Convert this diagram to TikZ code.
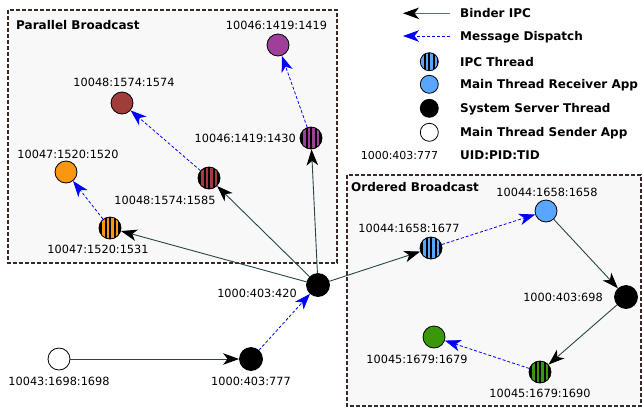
\documentclass[tikz,border=0pt]{standalone}
\usepackage{fontspec}
\setmainfont{DejaVu Sans}
\usetikzlibrary{arrows.meta}
\definecolor{cpurple}{RGB}{158,64,154}
\definecolor{cbrown}{RGB}{160,60,58}
\definecolor{corange}{RGB}{250,150,16}
\definecolor{cblue}{RGB}{90,165,255}
\definecolor{cgreen}{RGB}{58,152,8}
\definecolor{bindercol}{RGB}{40,70,70}
\definecolor{boxcol}{RGB}{55,42,36}
\definecolor{boxfill}{RGB}{248,248,248}
\begin{document}
\begin{tikzpicture}[x=1pt,y=-1pt,
  tipb/.tip={Stealth[length=16pt,width=11.5pt,inset=4.5pt,color=black]},
  tipd/.tip={Stealth[length=16pt,width=11.5pt,inset=4.5pt,color=blue]},
  binder/.style={draw=bindercol, line width=0.9pt, -tipb},
  dispatch/.style={draw=blue, line width=0.8pt, dash pattern=on 3pt off 2pt, -tipd},
  nd/.style={circle, draw=black, line width=0.8pt, minimum size=22pt, inner sep=0pt},
  mainn/.style={nd, fill=#1},
  ipcn/.style={nd, fill=black, path picture={
     \foreach \dx in {-6.75,-2.25,2.25,6.75}
       \fill[#1] ([xshift={\dx pt-1.25pt}]path picture bounding box.south) rectangle ([xshift={\dx pt+1.25pt}]path picture bounding box.north);}},
  sys/.style={nd, fill=black, minimum size=23pt},
  lg/.style={minimum size=18pt},
  lbl/.style={inner sep=0pt, text height=8.2pt, text depth=0pt, font=\fontsize{11.3}{13}\selectfont},
  blbl/.style={inner sep=0pt, text height=8.8pt, text depth=0pt, anchor=west, font=\fontsize{12}{14}\selectfont\bfseries},
  boxst/.style={draw=boxcol, line width=1.2pt, dash pattern=on 4pt off 2pt, fill=boxfill}
]
\useasboundingbox (0,0) rectangle (642,408);
% boxes
\draw[boxst] (8,10) rectangle (337,263);
\draw[boxst] (347,175) rectangle (641,406);
\node[blbl] (tpar) at (16,25) {Parallel Broadcast};
\node[blbl] (tord) at (351,187) {Ordered Broadcast};

% nodes
\node[mainn=cpurple] (pm) at (278,45) {};
\node[mainn=cbrown] (bm) at (122,103) {};
\node[mainn=corange] (om) at (66,172) {};
\node[ipcn=cpurple] (pi) at (311,138) {};
\node[ipcn=cbrown] (bi) at (209,178) {};
\node[ipcn=corange] (oi) at (110,228) {};
\node[sys] (hub) at (318,285) {};
\node[sys] (s777) at (251,359) {};
\node[mainn=white] (snd) at (59,359) {};
\node[ipcn=cblue] (ui) at (431,248) {};
\node[mainn=cblue] (um) at (546,211) {};
\node[sys] (s698) at (626,297) {};
\node[ipcn=cgreen] (gi) at (540,372) {};
\node[mainn=cgreen] (gm) at (434,337) {};

% labels
\node[lbl] (lpm) at (276.5,25) {10046:1419:1419};
\node[lbl] (lbm) at (124,82) {10048:1574:1574};
\node[lbl] (lom) at (68,154) {10047:1520:1520};
\node[lbl, anchor=east] (lpi) at (296,138) {10046:1419:1430};
\node[lbl] (lbi) at (165,200) {10048:1574:1585};
\node[lbl] (loi) at (98,249.5) {10047:1520:1531};
\node[lbl, anchor=east] (lhub) at (297,293) {1000:403:420};
\node[lbl] (l777) at (251,381) {1000:403:777};
\node[lbl] (lsnd) at (59,381) {10043:1698:1698};
\node[lbl] (lui) at (409,228) {10044:1658:1677};
\node[lbl] (lum) at (547,192) {10044:1658:1658};
\node[lbl, anchor=east] (l698) at (603,297) {1000:403:698};
\node[lbl] (lgi) at (540,393.5) {10045:1679:1690};
\node[lbl] (lgm) at (417,359) {10045:1679:1679};

% edges
\draw[binder] (snd) -- (s777);
\draw[dispatch] (s777) -- (hub);
\draw[binder] (hub) -- (oi);
\draw[binder] (hub) -- (bi);
\draw[binder] (hub) -- (pi);
\draw[binder] (hub) -- (ui);
\draw[dispatch] (oi) -- (om);
\draw[dispatch] (bi) -- (bm);
\draw[dispatch] (pi) -- (pm);
\draw[dispatch] (ui) -- (um);
\draw[binder] (um) -- (s698);
\draw[binder] (s698) -- (gi);
\draw[dispatch] (gi) -- (gm);

% legend
\coordinate (a1s) at (450,13.3);
\coordinate (a1e) at (403,13.3);
\coordinate (a2s) at (450,36);
\coordinate (a2e) at (403,36);
\draw[binder, draw=bindercol!75!white] (a1s) -- (a1e);
\draw[dispatch] (a2s) -- (a2e);
\node[blbl] (t1) at (460,13.3) {Binder IPC};
\node[blbl] (t2) at (460,36) {Message Dispatch};
\node[ipcn=cblue, lg] (g3) at (429.3,61.7) {};
\node[blbl] (t3) at (460,61.7) {IPC Thread};
\node[mainn=cblue, lg] (g4) at (429.3,84.3) {};
\node[blbl] (t4) at (460,84.3) {Main Thread Receiver App};
\node[mainn=black, lg] (g5) at (429.3,108.3) {};
\node[blbl] (t5) at (460,108.3) {System Server Thread};
\node[mainn=white, lg] (g6) at (429.3,132.3) {};
\node[blbl] (t6) at (460,132.3) {Main Thread Sender App};
\node[lbl, font=\fontsize{11}{13}\selectfont] (g7) at (399.5,155) {1000:403:777};
\node[blbl] (t7) at (460,155) {UID:PID:TID};
\end{tikzpicture}
\end{document}
